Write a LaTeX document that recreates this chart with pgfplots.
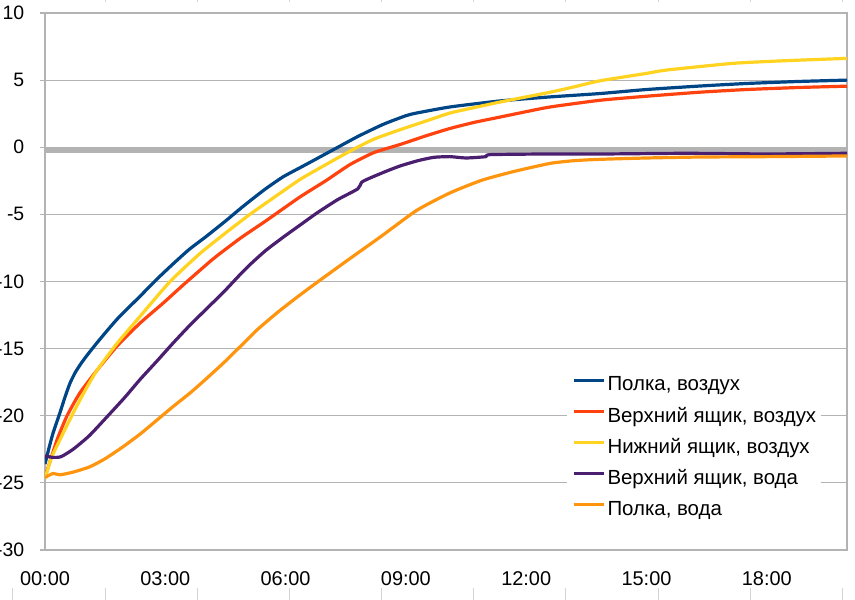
\documentclass[border=0pt]{standalone}
\usepackage{pgfplots}
\pgfplotsset{compat=1.18}
\usepackage{fontspec}
\setmainfont{Liberation Sans}
\definecolor{cblue}{HTML}{004586}
\definecolor{cred}{HTML}{FF420E}
\definecolor{cyellow}{HTML}{FFD320}
\definecolor{cpurple}{HTML}{4B1F6F}
\definecolor{corange}{HTML}{FF950E}
\definecolor{cgray}{HTML}{B3B3B3}
\definecolor{ccol}{HTML}{D4D4D4}
\begin{document}
\begin{tikzpicture}
\begin{axis}[
  scale only axis, width=802bp, height=537bp,
  xmin=0, xmax=20, ymin=-30, ymax=10,
  xtick={0,3,6,9,12,15,18},
  xticklabels={\mbox{00:00},\mbox{03:00},\mbox{06:00},\mbox{09:00},\mbox{12:00},\mbox{15:00},\mbox{18:00}},
  ytick={-30,-25,-20,-15,-10,-5,0,5,10},
  yticklabels={\mbox{-30},\mbox{-25},\mbox{-20},\mbox{-15},\mbox{-10},\mbox{-5},\mbox{0},\mbox{5},\mbox{10}},
  ymajorgrids, major grid style={draw=cgray, line width=1.2bp},
  axis line style={draw=cgray, line width=1.2bp},
  tick align=outside, ytick pos=left, xtick pos=bottom,
  major tick length=5bp,
  ytick style={draw=cgray, line width=1.2bp},
  xtick style={draw=none},
  tick label style={font=\fontsize{20}{23}\selectfont, inner sep=0pt},
  yticklabel style={anchor=east, xshift=-15.5bp, font=\fontsize{19.5}{23}\selectfont},
  xticklabel style={anchor=north, yshift=-16bp},
  legend cell align=left,
  legend style={at={(axis description cs:0.651,0.331)}, anchor=north west,
    draw=none, fill=white, inner xsep=5bp, inner ysep=4bp,
    font=\fontsize{20.5}{23}\selectfont,
    nodes={inner sep=0pt, text height=14.5bp, text depth=4bp},
    column sep=2bp, row sep=12.6bp},
  legend image code/.code={\draw[#1] (0bp,5.5bp) -- (30bp,5.5bp);},
  every axis plot/.append style={line width=3.2bp, line join=round, smooth, tension=0.35},
  clip=true,
]
\addplot[draw=cgray, line width=5bp, forget plot] coordinates {(0,-0.22)(20,-0.22)};
\addplot[cblue] coordinates {
(0,-23.6)(0.1,-22.4)(0.2,-21.3)(0.37,-19.8)(0.5,-18.6)(0.62,-17.6)(0.75,-16.8)(0.9,-16.1)(1.1,-15.3)(1.37,-14.3)(1.8,-12.8)(2.37,-11.1)(2.8,-9.8)(3.19,-8.7)(3.6,-7.6)(4.04,-6.6)(4.5,-5.5)(4.86,-4.6)(5.11,-4.0)(5.5,-3.1)(5.94,-2.2)(6.5,-1.3)(7.18,-0.2)(7.8,0.8)(8.43,1.7)(9.0,2.35)(9.27,2.55)(10.1,3.0)(11.35,3.45)(12.6,3.75)(13.84,4.0)(15,4.3)(16.33,4.56)(17.5,4.75)(18.8,4.9)(20,5.0)
};
\addlegendentry{Полка, воздух}
\addplot[cred] coordinates {
(0,-24.4)(0.05,-24.1)(0.3,-21.8)(0.55,-20.0)(0.87,-18.3)(1.3,-16.6)(1.8,-14.8)(2.37,-13.1)(2.95,-11.6)(3.45,-10.25)(4.2,-8.3)(4.86,-6.8)(5.5,-5.5)(6.36,-3.7)(7.0,-2.5)(7.6,-1.3)(8.2,-0.4)(8.85,0.2)(9.5,0.85)(10.1,1.4)(10.7,1.85)(11.35,2.25)(12.0,2.65)(12.6,3.0)(13.84,3.5)(15,3.8)(16.33,4.1)(17.5,4.3)(18.8,4.45)(20,4.55)
};
\addlegendentry{Верхний ящик, воздух}
\addplot[cyellow] coordinates {
(0,-24.7)(0.15,-23.2)(0.37,-21.8)(0.7,-19.8)(1.04,-17.9)(1.3,-16.6)(1.8,-14.6)(2.37,-12.6)(3.12,-10.0)(3.87,-7.9)(4.54,-6.3)(5.11,-5.0)(5.61,-3.95)(6.36,-2.4)(7.0,-1.3)(7.6,-0.3)(8.2,0.6)(8.85,1.3)(9.5,1.95)(10.1,2.55)(10.7,2.95)(11.35,3.37)(12.0,3.75)(12.6,4.1)(13.2,4.5)(13.84,4.95)(15,5.5)(15.5,5.75)(17.16,6.25)(18.5,6.45)(20,6.62)
};
\addlegendentry{Нижний ящик, воздух}
\addplot[cpurple] coordinates {
(0,-23.0)(0.2,-23.1)(0.4,-23.05)(0.7,-22.5)(1.1,-21.5)(1.54,-20.1)(2.0,-18.6)(2.37,-17.3)(2.8,-15.9)(3.19,-14.6)(3.6,-13.3)(4.04,-12.0)(4.45,-10.8)(4.86,-9.5)(5.11,-8.75)(5.5,-7.7)(5.94,-6.7)(6.36,-5.8)(6.78,-4.9)(7.3,-3.9)(7.8,-3.1)(7.9,-2.6)(8.1,-2.3)(8.5,-1.8)(8.85,-1.4)(9.3,-1.0)(9.7,-0.75)(10.1,-0.7)(10.5,-0.8)(11.0,-0.7)(11.1,-0.55)(12.6,-0.5)(14,-0.5)(16,-0.45)(18,-0.5)(20,-0.45)
};
\addlegendentry{Верхний ящик, вода}
\addplot[corange] coordinates {
(0,-24.6)(0.2,-24.3)(0.37,-24.4)(0.7,-24.2)(1.12,-23.8)(1.5,-23.2)(1.95,-22.3)(2.4,-21.3)(2.8,-20.3)(3.2,-19.3)(3.62,-18.3)(4.0,-17.3)(4.44,-16.1)(4.85,-14.9)(5.29,-13.6)(5.8,-12.3)(6.36,-11.0)(6.86,-9.9)(7.6,-8.3)(8.4,-6.6)(9.27,-4.7)(10.1,-3.4)(10.9,-2.45)(11.7,-1.8)(12.6,-1.2)(13.2,-1.0)(13.84,-0.9)(15,-0.8)(16.3,-0.73)(18,-0.7)(20,-0.65)
};
\addlegendentry{Полка, вода}
\end{axis}
\foreach \x in {-32,60,152,244,336,428,520,613,705,797}{
  \draw[ccol, line width=1bp] ([xshift=\x bp, yshift=-38bp]current axis.south west) -- ([xshift=\x bp, yshift=-50bp]current axis.south west);
}
\foreach \x in {60,152,244,336,428,520,613,705,797}{
  \draw[ccol, line width=1bp] ([xshift=\x bp, yshift=13bp]current axis.north west) -- ([xshift=\x bp, yshift=10.5bp]current axis.north west);
}
\pgfresetboundingbox
\path[use as bounding box] ([xshift=-45bp,yshift=-50bp]current axis.south west) rectangle ([xshift=8bp,yshift=13bp]current axis.north east);
\end{tikzpicture}
\end{document}
